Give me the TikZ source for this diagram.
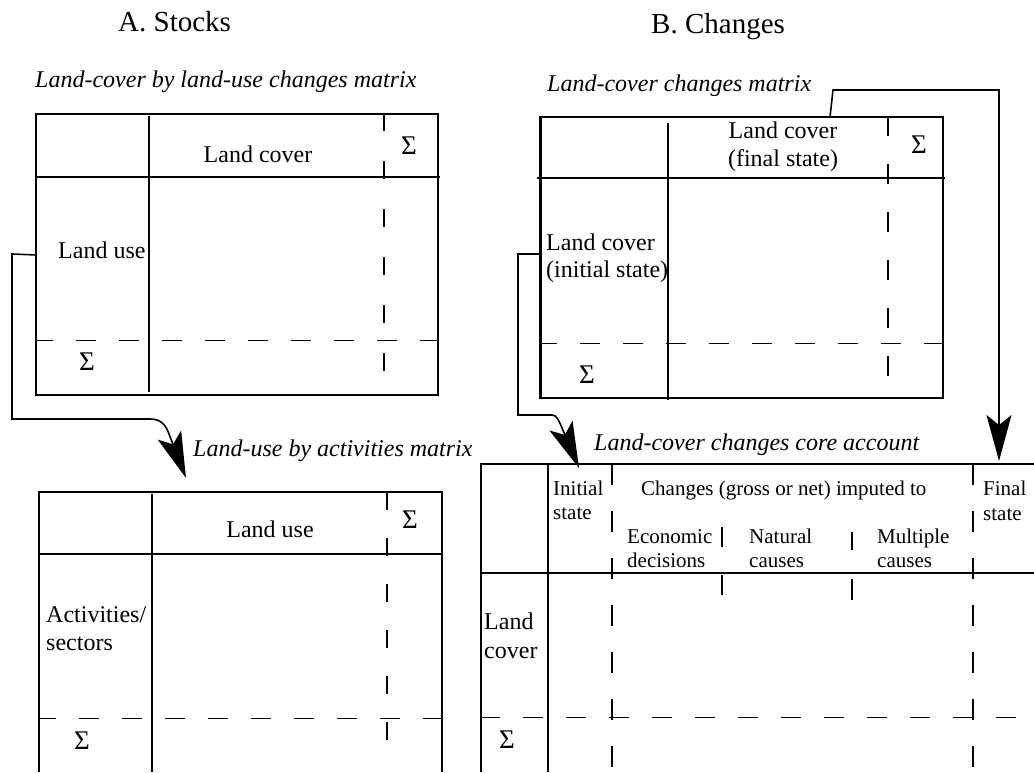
\documentclass[tikz,border=0pt]{standalone}
\usepackage{fontspec}
\setmainfont{Liberation Serif}
\usetikzlibrary{arrows.meta}
\begin{document}
\begin{tikzpicture}[x=1pt,y=-1pt,
  thinrule/.style={line width=1.1pt},
  rule/.style={line width=2pt},
  heavyrule/.style={line width=2.6pt},
  vdash/.style={line width=2.2pt, dash pattern=on 18pt off 30pt},
  cdash/.style={line width=2.2pt, dash pattern=on 21pt off 26pt},
  hdash/.style={line width=1pt, dash pattern=on 20pt off 23pt, dash phase=3pt},
  conn/.style={line width=1.6pt},
  bigtip/.style={-{Stealth[length=46pt,width=25pt,inset=10pt]}},
  lbl/.style={font=\fontsize{24}{28}\selectfont, inner sep=0pt, anchor=base},
  lblw/.style={lbl, anchor=base west},
  sumsign/.style={font=\fontsize{27}{30}\selectfont, inner sep=0pt, anchor=base},
  cellsm/.style={font=\fontsize{21}{24}\selectfont, inner sep=0pt, anchor=base west},
  ttl/.style={font=\fontsize{24}{28}\selectfont\itshape, inner sep=0pt, anchor=base west},
  hdr/.style={font=\fontsize{29}{34}\selectfont, inner sep=0pt, anchor=base west}]

\fill[white] (0,0) rectangle (1034,772);
\useasboundingbox (0,0) rectangle (1034,772);

% section headings
\node[hdr] (hA) at (118,31) {A. Stocks};
\node[hdr] (hB) at (651,33) {B. Changes};

% land cover by land use
\node[ttl] (tA1) at (35,87) {Land-cover by land-use changes matrix};
\draw[thinrule] (36,114) -- (438,114);
\draw[thinrule] (36,177) -- (440,177);
\draw[line width=1.4pt] (36,395) -- (439,395);
\draw[rule] (36,113) -- (36,396);
\draw[heavyrule] (438,113) -- (438,396);
\draw[rule] (149,116) -- (149,392);
\draw[vdash] (384,113) -- (384,373);
\draw[hdash] (36,340) -- (438,340);
\node[lbl] (a1col) at (258,162) {Land cover};
\node[sumsign] (a1sumc) at (409,154) {Σ};
\node[lblw] (a1row) at (58,258) {Land use};
\node[sumsign] (a1sumr) at (87,370) {Σ};

% land use by activities
\node[ttl] (tA2) at (193,456) {Land-use by activities matrix};
\draw[thinrule] (39,492) -- (442,492);
\draw[thinrule] (39,554) -- (443,554);
\draw[rule] (39,491) -- (39,772);
\draw[rule] (442,491) -- (442,772);
\draw[rule] (152,494) -- (152,772);
\draw[vdash, dash pattern=on 18pt off 28pt] (387,492) -- (387,750);
\draw[hdash] (39,718) -- (442,718);
\node[lbl] (a2col) at (270,537) {Land use};
\node[sumsign] (a2sumc) at (410,528) {Σ};
\node[lblw] (a2row1) at (46,622) {Activities/};
\node[lblw] (a2row2) at (46,650) {sectors};
\node[sumsign] (a2sumr) at (82,749) {Σ};

% land cover changes matrix
\node[ttl] (tB1) at (547,91) {Land-cover changes matrix};
\draw[thinrule] (540,117) -- (943,117);
\draw[line width=2pt] (537,178) -- (945,178);
\draw[line width=1.3pt] (540,398) -- (943,398);
\draw[line width=3pt] (540,116) -- (540,399);
\draw[line width=1.6pt] (943,116) -- (943,399);
\draw[rule] (668,123) -- (668,400);
\draw[vdash, dash pattern=on 20pt off 28pt] (888,116) -- (888,377);
\draw[hdash] (540,343) -- (943,343);
\node[lbl] (b1col1) at (783,138) {Land cover};
\node[lbl] (b1col2) at (783,166) {(final state)};
\node[sumsign] (b1sumc) at (919,153) {Σ};
\node[lblw] (b1row1) at (546,250) {Land cover};
\node[lblw] (b1row2) at (546,277) {(initial state)};
\node[sumsign] (b1sumr) at (587,383) {Σ};

% core account
\node[ttl] (tC) at (594,450) {Land-cover changes core account};
\draw[thinrule] (481,464) -- (1034,464);
\draw[thinrule] (481,573) -- (1034,573);
\draw[heavyrule] (481,463) -- (481,772);
\draw[rule] (548,463) -- (548,772);
\draw[cdash] (612,464) -- (612,772);
\draw[cdash] (973,464) -- (973,772);
\draw[line width=2.2pt] (722,527) -- (722,547) (722,575) -- (722,595);
\draw[line width=2.2pt] (852,532) -- (852,550) (852,579) -- (852,600);
\draw[hdash, dash phase=0pt] (480,717) -- (1034,717);
\node[cellsm] (ci1) at (553,495) {Initial};
\node[cellsm] (ci2) at (553,519) {state};
\node[cellsm] (cch) at (641,495) {Changes (gross or net) imputed to};
\node[cellsm] (ce1) at (627,543) {Economic};
\node[cellsm] (ce2) at (627,567) {decisions};
\node[cellsm] (cn1) at (749,543) {Natural};
\node[cellsm] (cn2) at (749,567) {causes};
\node[cellsm] (cm1) at (877,543) {Multiple};
\node[cellsm] (cm2) at (877,567) {causes};
\node[cellsm] (cf1) at (983,495) {Final};
\node[cellsm] (cf2) at (983,520) {state};
\node[lblw] (cl1) at (484,629) {Land};
\node[lblw] (cl2) at (484,658) {cover};
\node[sumsign] (csum) at (507,748) {Σ};

% connectors
\coordinate (a1w) at (37,255);
\coordinate (a2tip) at (186,478);
\draw[conn, bigtip] (a1w) -- (12,254) -- (12,419) -- (150,419)
  .. controls (162,419) and (166,426) .. (169,434) -- (a2tip);

\coordinate (b1w) at (540,254);
\coordinate (ctip1) at (579,468);
\draw[conn, bigtip] (b1w) -- (518,254) -- (518,415) -- (552,415)
  .. controls (557,415) and (559,421) .. (562,428) -- (ctip1);

\coordinate (b1n) at (830,117);
\coordinate (ctip2) at (999,461);
\draw[conn, bigtip] (b1n) -- (833,90) -- (999,90) -- (ctip2);
\end{tikzpicture}
\end{document}
